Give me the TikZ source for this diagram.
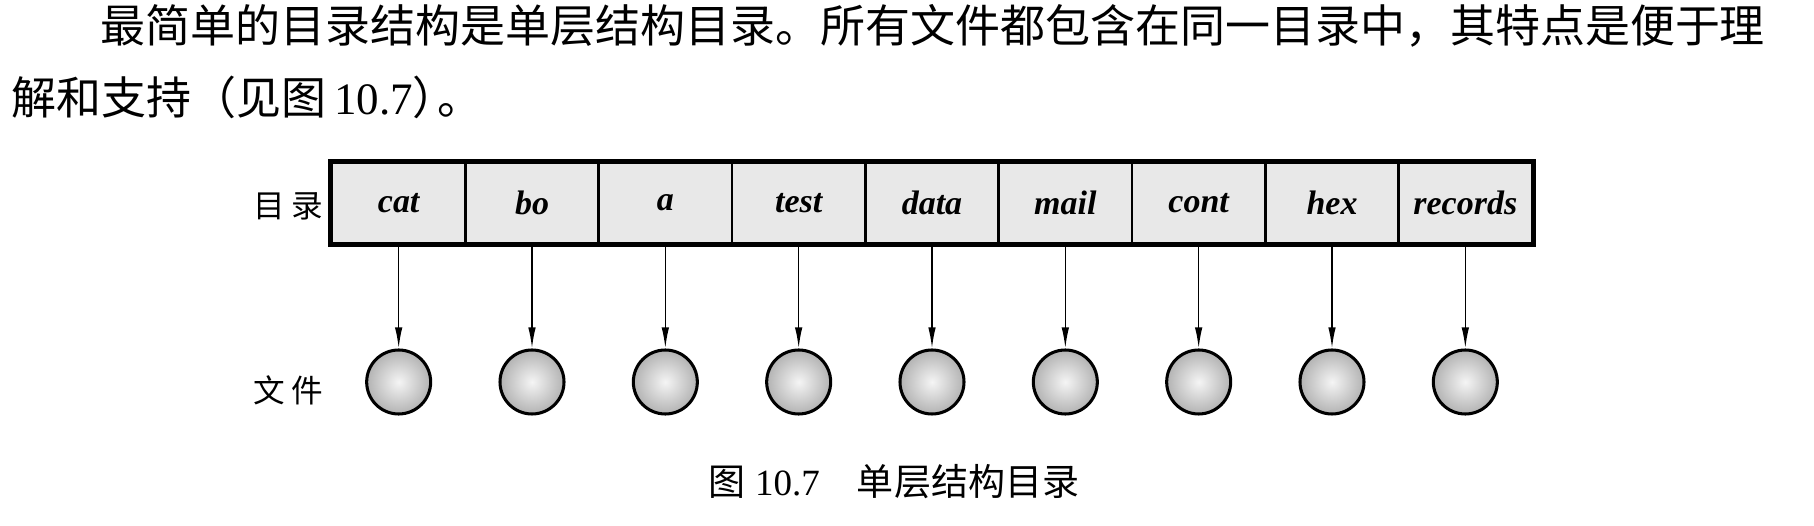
\documentclass[tikz,border=0pt]{standalone}
\usepackage{fontspec}
\setmainfont{Liberation Serif}
\newfontfamily\cjk{Noto Sans CJK SC}
\usetikzlibrary{arrows.meta}
\newcommand\textline[3]{\node[anchor=west,inner sep=0pt] (#1) at (#2) {\fontsize{19.2pt}{23pt}\selectfont #3};}

\begin{document}
\begin{tikzpicture}[
  cell/.style={draw,line width=1.2pt,fill=gray!18,minimum width=2cm,minimum height=1.2cm,inner sep=0pt,
    font=\fontsize{14.5pt}{17pt}\selectfont\bfseries\itshape},
  file/.style={circle,draw,line width=1.3pt,minimum size=0.96cm,inner sep=0pt,inner color=gray!8,outer color=gray!60},
  lbl/.style={font=\fontsize{13.5pt}{16pt}\selectfont\cjk,inner sep=0pt}]
\useasboundingbox (0,0) rectangle (27.21,-7.89);
\textline{line1}{1.50,-0.39}{\cjk 最简单的目录结构是单层结构目录。所有文件都包含在同一目录中，其特点是便于理}
\textline{line2}{0.17,-1.455}{{\cjk 解和支持（见图}\,10.7{\cjk ）\kern-0.45em。}}
\foreach \name [count=\i] in {cat,bo,a,test,data,mail,cont,hex,records} {
  \node[cell] (c\i) at (3.98+2*\i,-3.045) {\name};
  \node[file] (f\i) at (3.98+2*\i,-5.73) {};
  \draw[-{Latex[length=9pt,width=3.2pt]},line width=0.7pt] (c\i) -- (f\i);
}
\draw[line width=1.8pt] (c1.north west) rectangle (c9.south east);
\node[lbl] (dirlabel) at (4.32,-3.10) {目\hspace{0.2em}录};
\node[lbl] (filelabel) at (4.32,-5.85) {文\hspace{0.2em}件};
\node (caption) at (13.41,-7.23) {\fontsize{15.8pt}{19pt}\selectfont{\cjk 图}\ 10.7\hspace{1em}{\cjk 单层结构目录}};
\end{tikzpicture}
\end{document}
